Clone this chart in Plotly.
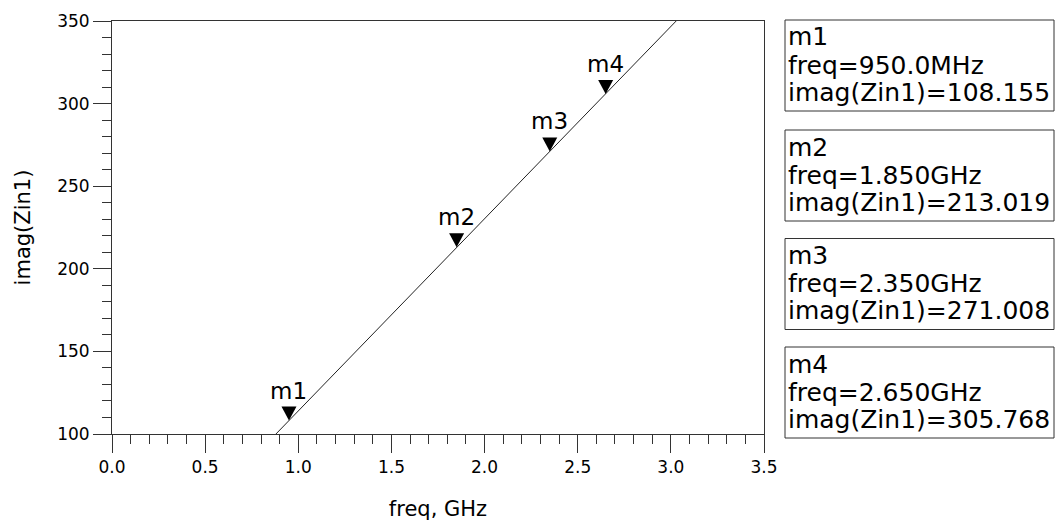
import plotly.graph_objects as go

# ---- data ----
freq_ghz = [0.85, 0.95, 1.85, 2.35, 2.65, 3.05]
imag_zin = [96.5, 108.155, 213.019, 271.008, 305.768, 352.5]

marker_names = ["m1", "m2", "m3", "m4"]
marker_freq = [0.95, 1.85, 2.35, 2.65]
marker_val = [108.155, 213.019, 271.008, 305.768]
marker_freq_text = ["950.0MHz", "1.850GHz", "2.350GHz", "2.650GHz"]
marker_val_text = ["108.155", "213.019", "271.008", "305.768"]

x_ticks = [0.0, 0.5, 1.0, 1.5, 2.0, 2.5, 3.0, 3.5]
y_ticks = [100, 150, 200, 250, 300, 350]

# ---- layout constants (pixels) ----
W, H = 1062, 522
PL, PR, PT, PB = 112, 764, 21, 434
AX = "#333333"
TXT = "#000000"
FONT = "DejaVu Sans"


def px_x(px):
    return (px - PL) / (PR - PL)


def px_y(py):
    return (PB - py) / (PB - PT)


fig = go.Figure()
fig.add_trace(go.Scatter(
    x=freq_ghz, y=imag_zin, mode="lines",
    line=dict(color="#222222", width=1), showlegend=False, hoverinfo="skip",
))

shapes = []
annotations = []

# markers: downward triangles with tip on the curve, plus labels
for name, fx, fy in zip(marker_names, marker_freq, marker_val):
    shapes.append(dict(
        type="path", xref="x", yref="y",
        xsizemode="pixel", ysizemode="pixel",
        xanchor=fx, yanchor=fy,
        path="M -7.5,14 L 7.5,14 L 0,0 Z",
        fillcolor="black", line=dict(width=0),
    ))
    annotations.append(dict(
        x=fx, y=fy, xref="x", yref="y", text=name, showarrow=False,
        xanchor="center", yanchor="bottom", yshift=15,
        font=dict(family=FONT, size=23, color=TXT),
    ))

# marker readout boxes on the right
box_left, box_right, box_h = 785, 1054, 91
box_tops = [20, 130, 238.5, 347]
line_offsets = [17, 45, 72]
for name, ft, vt, top in zip(marker_names, marker_freq_text, marker_val_text, box_tops):
    shapes.append(dict(
        type="rect", xref="paper", yref="paper",
        x0=px_x(box_left), x1=px_x(box_right),
        y0=px_y(top + box_h), y1=px_y(top),
        line=dict(color=AX, width=1), fillcolor="white",
    ))
    lines = [name, "freq=" + ft, "imag(Zin1)=" + vt]
    for txt, off in zip(lines, line_offsets):
        annotations.append(dict(
            x=px_x(box_left + 1), y=px_y(top + off), xref="paper", yref="paper",
            text=txt, showarrow=False, xanchor="left", yanchor="middle",
            font=dict(family=FONT, size=25, color=TXT),
        ))

fig.update_layout(
    width=W, height=H,
    margin=dict(l=PL, r=W - PR, t=PT, b=H - PB, autoexpand=False),
    paper_bgcolor="white", plot_bgcolor="white",
    shapes=shapes, annotations=annotations,
    showlegend=False,
    font=dict(family=FONT, color=TXT),
)

fig.update_xaxes(
    range=[0, 3.5], tickvals=x_ticks, tickformat=".1f",
    showgrid=False, zeroline=False,
    showline=True, mirror=True, linecolor=AX, linewidth=1,
    ticks="outside", ticklen=18, tickwidth=1, tickcolor=AX,
    minor=dict(dtick=0.1, ticks="outside", ticklen=9, tickwidth=1, tickcolor=AX, showgrid=False),
    tickfont=dict(family=FONT, size=17, color=TXT),
    title=dict(text="freq, GHz", font=dict(family=FONT, size=21, color=TXT), standoff=24),
    automargin=False,
)
fig.update_yaxes(
    range=[100, 350], tickvals=y_ticks,
    showgrid=False, zeroline=False,
    showline=True, mirror=True, linecolor=AX, linewidth=1,
    ticks="outside", ticklen=18, tickwidth=1, tickcolor=AX,
    minor=dict(dtick=10, ticks="outside", ticklen=9, tickwidth=1, tickcolor=AX, showgrid=False),
    tickfont=dict(family=FONT, size=17, color=TXT),
    title=dict(text="imag(Zin1)", font=dict(family=FONT, size=21, color=TXT), standoff=20),
    automargin=False,
)

fig.write_html("out.html")
